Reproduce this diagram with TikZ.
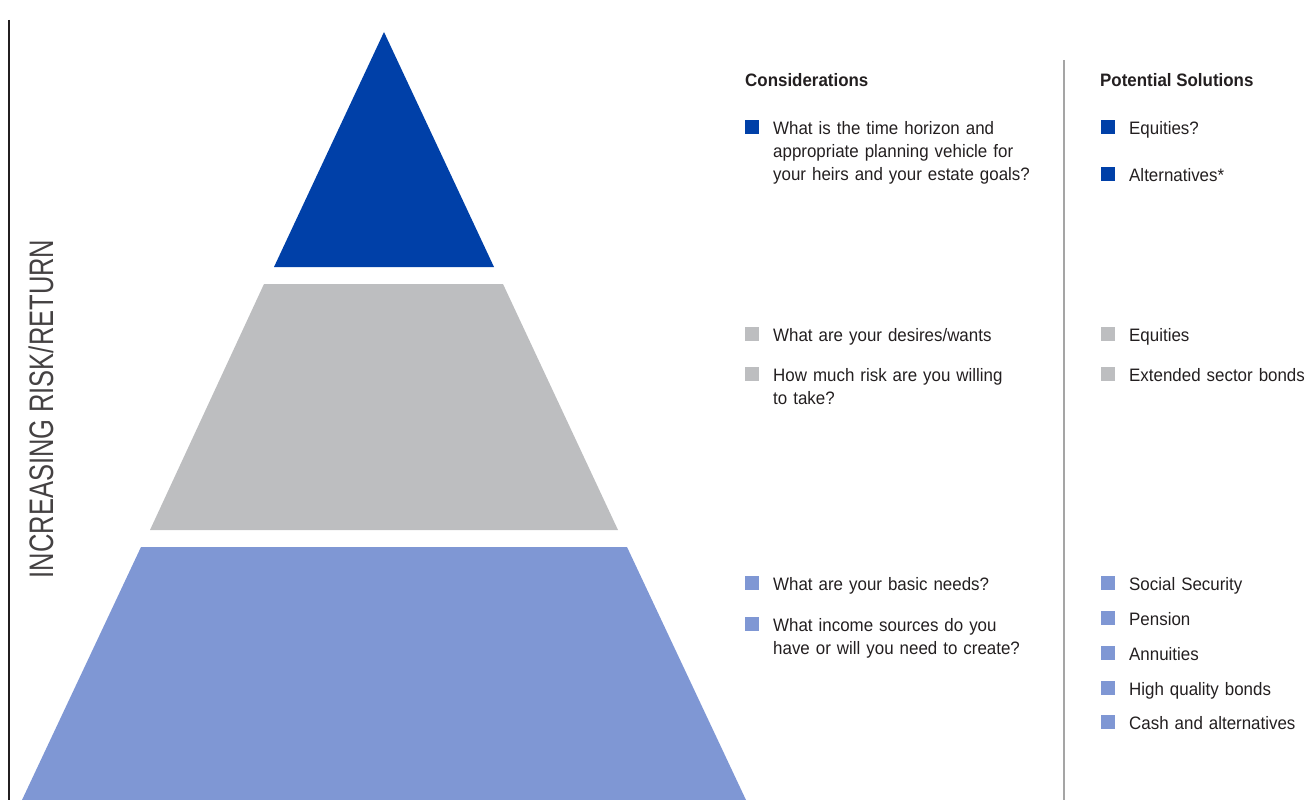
\documentclass[tikz,border=0pt]{standalone}
\usepackage{fontspec}
\setmainfont{Liberation Sans}[FakeStretch=0.94]
\newfontfamily\axisfont{Liberation Sans}[FakeStretch=0.75]
\usetikzlibrary{positioning}

\definecolor{topblue}{RGB}{0,64,168}
\definecolor{midgrey}{RGB}{189,190,192}
\definecolor{lowblue}{RGB}{127,151,212}
\definecolor{rulegrey}{RGB}{165,165,165}
\definecolor{ink}{RGB}{35,31,32}

\tikzset{
  head/.style={anchor=base west, inner sep=0pt, text=ink, font=\fontsize{18}{23}\selectfont\bfseries},
  item/.style={anchor=base west, inner sep=0pt, text=ink, align=left, text width=280pt,
    font=\fontsize{18}{23}\selectfont},
  sq/.style={anchor=south east, inner sep=0pt, minimum size=14pt, fill=#1},
}

\begin{document}
\begin{tikzpicture}[x=1pt, y=-1pt]
  \useasboundingbox (0,0) rectangle (1312,800);

  % axis on the left
  \draw[ink, line width=2pt] (9,20) -- (9,800);
  \node[rotate=90, inner sep=0pt, text=ink!85, font=\axisfont\fontsize{34}{34}\selectfont] (axis) at (41,409) {INCREASING RISK/RETURN};

  % pyramid, three layers
  \fill[topblue] (384,32) -- (494,267) -- (274,267) -- cycle;
  \fill[midgrey] (264,284) -- (503,284) -- (618,530) -- (150,530) -- cycle;
  \fill[lowblue] (141,547) -- (627,547) -- (746,800) -- (22,800) -- cycle;

  % column divider
  \draw[rulegrey, line width=2pt] (1064,60) -- (1064,800);

  % considerations
  \node[head] (conhead) at (745,86) {Considerations};
  \foreach \n/\y/\c/\t in {
      con1/134/topblue/{What is the time horizon and\\appropriate planning vehicle for\\your heirs and your estate goals?},
      con2/341/midgrey/{What are your desires/wants},
      con3/381/midgrey/{How much risk are you willing\\to take?},
      con4/590/lowblue/{What are your basic needs?},
      con5/631/lowblue/{What income sources do you\\have or will you need to create?}}{
    \node[item] (\n) at (773,\y) {\t};
    \node[sq=\c] (\n sq) at ([xshift=-14pt]\n.base west) {};
  }

  % potential solutions
  \node[head] (solhead) at (1100,86) {Potential Solutions};
  \foreach \n/\y/\c/\t in {
      sol1/134/topblue/{Equities?},
      sol2/181/topblue/{Alternatives*},
      sol3/341/midgrey/{Equities},
      sol4/381/midgrey/{Extended sector bonds},
      sol5/590/lowblue/{Social Security},
      sol6/625/lowblue/{Pension},
      sol7/660/lowblue/{Annuities},
      sol8/695/lowblue/{High quality bonds},
      sol9/729/lowblue/{Cash and alternatives}}{
    \node[item, text width=200pt] (\n) at (1129,\y) {\t};
    \node[sq=\c] (\n sq) at ([xshift=-14pt]\n.base west) {};
  }
\end{tikzpicture}
\end{document}
